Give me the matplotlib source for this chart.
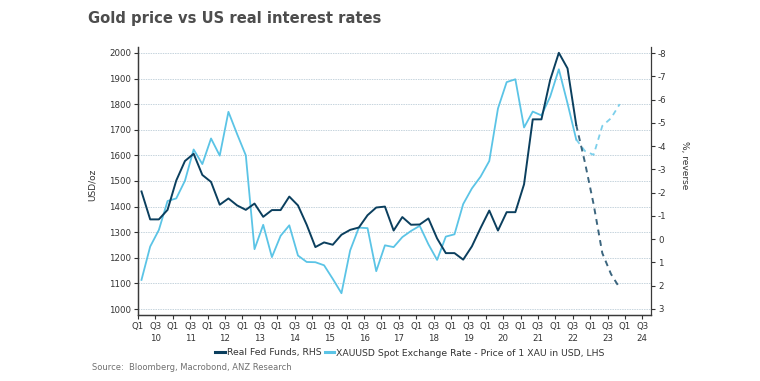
import matplotlib
matplotlib.use("Agg")
import matplotlib.pyplot as plt
import matplotlib.ticker as mticker
import numpy as np

# ── Palette ───────────────────────────────────────────────────────────────────
DARK = "#0b3f5e"
LIGHT = "#5bc4e6"
AXIS = "#3a3a3a"
TEXT = "#333333"
GRID = "#c6d4dd"
FONT = "DejaVu Sans"

plt.rcParams["font.family"] = FONT
plt.rcParams["axes.unicode_minus"] = False

# ── Data (quarterly, Q1 2010 = index 0) ──────────────────────────────────────
gold_price = [
    1114, 1244, 1309, 1422, 1432, 1501, 1623, 1566, 1666, 1599,
    1770, 1683, 1600, 1234, 1329, 1203, 1286, 1327, 1209, 1184,
    1183, 1171, 1118, 1062, 1229, 1318, 1316, 1148, 1249, 1242,
    1281, 1305, 1325, 1253, 1192, 1283, 1292, 1410, 1471, 1517,
    1578, 1783, 1886, 1897, 1709, 1771, 1756, 1829, 1936, 1803, 1662,
]
real_fed_funds = [
    -2.05, -0.85, -0.85, -1.26, -2.52, -3.36, -3.67, -2.76, -2.46, -1.48,
    -1.75, -1.45, -1.26, -1.53, -0.96, -1.25, -1.25, -1.83, -1.45, -0.62,
    0.34, 0.14, 0.24, -0.19, -0.40, -0.50, -1.03, -1.36, -1.40, -0.37,
    -0.95, -0.62, -0.63, -0.89, -0.03, 0.60, 0.60, 0.88, 0.31, -0.48,
    -1.23, -0.37, -1.16, -1.16, -2.36, -5.15, -5.15, -6.84, -8.01, -7.34, -4.91,
]
# forecasts start from the last actual quarter (Q3 2022)
gold_forecast = [1662, 1617, 1602, 1715, 1745, 1800]
fed_forecast = [-4.91, -3.3, -1.5, 0.6, 1.5, 2.1]

years = list(range(10, 25))
left_ticks = list(range(1000, 2001, 100))
right_ticks = list(range(-8, 4))

OFFSET = 0.4  # points sit a little after the quarter start
x_hist = np.arange(len(gold_price)) + OFFSET
x_fc = np.arange(len(gold_price) - 1, len(gold_price) - 1 + len(gold_forecast)) + OFFSET

fig = plt.figure(figsize=(7.6, 3.81), dpi=100)
fig.patch.set_facecolor("white")
ax = fig.add_axes([138 / 760, 1 - 315 / 381, (651 - 138) / 760, (315 - 47) / 381])
ax2 = ax.twinx()

ax.plot(x_hist, gold_price, color=LIGHT, lw=1.3, zorder=3)
ax.plot(x_fc, gold_forecast, color=LIGHT, lw=1.3, ls=(0, (3, 2.5)), alpha=0.8, zorder=3)
ax2.plot(x_hist, real_fed_funds, color=DARK, lw=1.4, zorder=4)
ax2.plot(x_fc, fed_forecast, color=DARK, lw=1.4, ls=(0, (3, 2.5)), alpha=0.8, zorder=4)

# ── Axes ──────────────────────────────────────────────────────────────────────
ax.set_xlim(0, 59)
ax.set_ylim(977, 2023)
ax2.set_ylim(3.26, -8.26)

ax.set_yticks(left_ticks)
ax2.set_yticks(right_ticks)
ax2.yaxis.set_major_formatter(mticker.FuncFormatter(lambda v, _: f"{int(v)}"))

ticks = list(range(0, 59, 2))
labels = []
for k in ticks:
    if k % 4 == 0:
        labels.append("Q1")
    else:
        labels.append(f"Q3\n{years[k // 4]}")
ax.set_xticks(ticks)
ax.set_xticklabels(labels, linespacing=1.5)

ax.yaxis.grid(True, color=GRID, lw=0.7, ls=(0, (1.5, 1)), zorder=0)
ax.set_axisbelow(True)

for a in (ax, ax2):
    a.spines["top"].set_visible(False)
    for s in ("left", "right", "bottom"):
        a.spines[s].set_color(AXIS)
        a.spines[s].set_linewidth(0.9)
    a.tick_params(colors=TEXT, labelsize=6.2, length=3, width=0.8, direction="out", pad=2)
ax.spines["right"].set_visible(False)

ax.set_ylabel("USD/oz", fontsize=6.5, color=TEXT)
ax2.set_ylabel("%, reverse", fontsize=6.5, color=TEXT, rotation=-90)
ax2.yaxis.set_label_coords(1.075, 0.56)
ax.yaxis.set_label_coords(-0.08, 0.485)

fig.text(88 / 760, 1 - 18 / 381, "Gold price vs US real interest rates",
         fontsize=10.6, fontweight="bold", color="#4d4d4d", va="center", ha="left")

handles = [
    plt.Line2D([], [], color=DARK, lw=2.2),
    plt.Line2D([], [], color=LIGHT, lw=2.2),
]
fig.legend(handles, ["Real Fed Funds, RHS",
                     "XAUUSD Spot Exchange Rate - Price of 1 XAU in USD, LHS"],
           loc="center", bbox_to_anchor=(410 / 760, 1 - 353 / 381), ncol=2,
           frameon=False, fontsize=6.7, handlelength=1.0, handletextpad=0.25,
           columnspacing=0.3, labelcolor=TEXT)

fig.text(92 / 760, 1 - 368 / 381, "Source:  Bloomberg, Macrobond, ANZ Research",
         fontsize=6, color="#707070", va="center", ha="left")

fig.savefig("out.png", dpi=100)
